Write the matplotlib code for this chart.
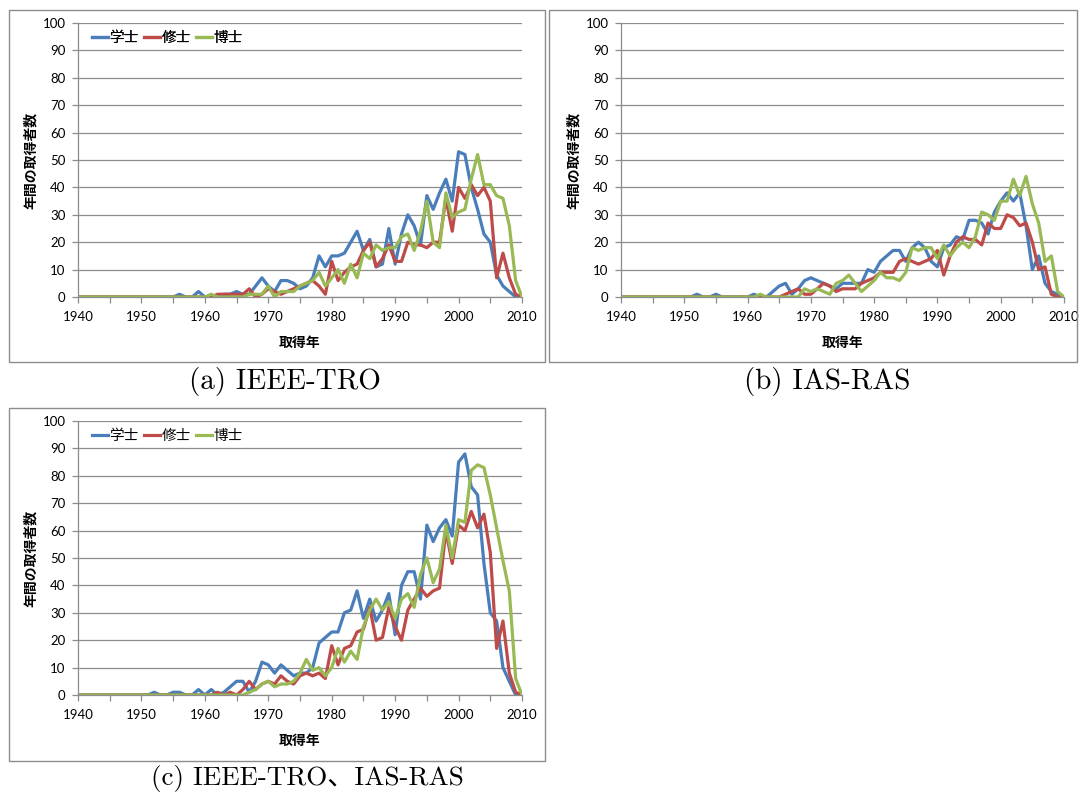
import matplotlib
matplotlib.use('Agg')
import matplotlib.pyplot as plt
from matplotlib.patches import Rectangle
from matplotlib.ticker import MultipleLocator

plt.rcParams['font.family'] = ['Lato', 'Noto Sans CJK JP', 'DejaVu Sans']

W, H = 1079, 794

years = list(range(1940, 2011))
series_names = ['学士', '修士', '博士']
colors = ['#4A7EBB', '#BE4B48', '#98B954']

# (a) IEEE-TRO
tro_bachelor = [0] * 16 + [1, 0, 0, 2, 0, 0, 0, 1, 1, 2,
                           1, 1, 4, 7, 4, 2, 6, 6, 5, 3,
                           4, 7, 15, 11, 15, 15, 16, 20, 24, 17,
                           21, 11, 12, 25, 12, 23, 30, 26, 19, 37,
                           32, 38, 43, 35, 53, 52, 40, 32, 23, 20,
                           8, 4, 2, 0, 0]
tro_master = [0] * 22 + [1, 1, 1, 1, 1, 3, 0, 1, 3, 2,
                         1, 2, 3, 4, 5, 6, 4, 1, 13, 6,
                         9, 11, 12, 17, 20, 11, 14, 19, 13, 13,
                         20, 19, 19, 18, 20, 20, 36, 24, 40, 36,
                         41, 37, 40, 35, 7, 16, 7, 1, 0]
tro_doctor = [0] * 21 + [1, 0, 0, 0, 0, 0, 1, 1, 1, 4,
                         0, 2, 2, 2, 4, 5, 6, 9, 4, 7,
                         10, 5, 12, 7, 16, 14, 19, 17, 18, 18,
                         22, 23, 17, 24, 35, 20, 18, 38, 29, 31,
                         32, 43, 52, 41, 41, 37, 36, 26, 6, 0]

# (b) IAS-RAS
ras_bachelor = [0] * 12 + [1, 0, 0, 1, 0, 0, 0, 0, 0, 1,
                           0, 0, 2, 4, 5, 1, 3, 6, 7, 6,
                           5, 4, 3, 5, 5, 5, 5, 10, 9, 13,
                           15, 17, 17, 13, 18, 20, 18, 13, 11, 18,
                           19, 22, 21, 28, 28, 27, 23, 31, 35, 38,
                           35, 38, 26, 10, 15, 5, 2, 1, 0]
ras_master = [0] * 26 + [1, 2, 3, 1, 1, 3, 5, 4, 2, 3,
                         3, 3, 5, 6, 7, 9, 9, 9, 13, 14,
                         13, 12, 13, 14, 17, 8, 15, 20, 22, 21,
                         21, 19, 27, 25, 25, 30, 29, 26, 27, 20,
                         10, 11, 1, 0, 0]
ras_doctor = [0] * 22 + [1, 0, 0, 0, 0, 0, 0, 3, 2, 3,
                         2, 1, 5, 6, 8, 5, 2, 4, 6, 9,
                         7, 7, 6, 9, 18, 17, 18, 18, 14, 19,
                         15, 18, 20, 18, 22, 31, 30, 28, 35, 35,
                         43, 37, 44, 34, 27, 13, 15, 2, 0]

# (c) IEEE-TRO + IAS-RAS
all_bachelor = [0] * 12 + [1, 0, 0, 1, 1, 0, 0, 2, 0, 2,
                           0, 1, 3, 5, 5, 1, 5, 12, 11, 8,
                           11, 9, 7, 8, 8, 10, 19, 21, 23, 23,
                           30, 31, 38, 28, 35, 27, 31, 37, 22, 40,
                           45, 45, 35, 62, 56, 61, 64, 58, 85, 88,
                           76, 73, 48, 30, 27, 10, 5, 0, 0]
all_master = [0] * 22 + [1, 0, 1, 0, 2, 5, 2, 4, 5, 4,
                         7, 5, 4, 7, 8, 7, 8, 6, 18, 11,
                         17, 18, 23, 24, 32, 20, 21, 32, 25, 20,
                         31, 35, 39, 36, 38, 39, 60, 48, 62, 60,
                         67, 61, 66, 52, 17, 27, 8, 1, 0]
all_doctor = [0] * 27 + [1, 2, 4, 5, 3, 4, 4, 5, 8, 13,
                         9, 10, 7, 10, 17, 12, 16, 13, 25, 31,
                         35, 31, 34, 28, 35, 37, 32, 44, 50, 41,
                         46, 62, 50, 64, 63, 82, 84, 83, 73, 61,
                         49, 38, 6, 0]

fig = plt.figure(figsize=(W / 100, H / 100), dpi=100)


def px_rect(x0, y0, x1, y1):
    return [x0 / W, 1 - y1 / H, (x1 - x0) / W, (y1 - y0) / H]


def draw_panel(data, plot_box, frame_box, caption, cap_xy, cap_size):
    # outer frame of the excel chart
    fx0, fy0, fx1, fy1 = frame_box
    fig.patches.append(Rectangle((fx0 / W, 1 - fy1 / H), (fx1 - fx0) / W, (fy1 - fy0) / H,
                                 transform=fig.transFigure, fill=False,
                                 edgecolor='#8C8C8C', linewidth=1.0))
    x0, y0, x1, y1 = plot_box
    ax = fig.add_axes(px_rect(x0, y0, x1, y1))
    for vals, name, col in zip(data, series_names, colors):
        ax.plot(years, vals, color=col, linewidth=2.3, label=name,
                solid_joinstyle='round')
    ax.set_xlim(1940, 2010)
    ax.set_ylim(0, 100)
    ax.xaxis.set_major_locator(MultipleLocator(10))
    ax.xaxis.set_minor_locator(MultipleLocator(5))
    ax.yaxis.set_major_locator(MultipleLocator(10))
    ax.grid(axis='y', color='#8C8C8C', linewidth=0.9)
    ax.set_axisbelow(True)
    for s in ['top', 'right']:
        ax.spines[s].set_visible(False)
    for s in ['left', 'bottom']:
        ax.spines[s].set_color('#8C8C8C')
        ax.spines[s].set_linewidth(0.9)
    ax.tick_params(which='both', length=4, width=0.9, color='#8C8C8C',
                   labelsize=9.5, direction='out')
    ax.tick_params(axis='x', pad=6)
    ax.tick_params(axis='y', pad=5)
    ax.legend(loc='center left', bbox_to_anchor=((92 - x0) / (x1 - x0), 1 - 15 / (y1 - y0)),
              ncol=3, frameon=False, fontsize=10.5, handlelength=1.1,
              handletextpad=0.1, columnspacing=0.35, borderpad=0, borderaxespad=0)
    cx = (x0 + x1) / 2
    fig.text(cx / W, 1 - (y1 + 46) / H, '取得年', ha='center', va='center',
             fontsize=10, fontweight='bold')
    fig.text((x0 - 48) / W, 1 - ((y0 + y1) / 2) / H, '年間の取得者数', ha='center',
             va='center', rotation=90, fontsize=10, fontweight='bold')
    fig.text(cap_xy[0] / W, 1 - cap_xy[1] / H, caption, ha='center', va='center',
             fontsize=cap_size, family=['cmr10', 'Noto Sans CJK JP'])
    return ax


draw_panel([tro_bachelor, tro_master, tro_doctor], (78, 23, 522, 297),
           (9, 10, 545, 362), '(a) IEEE-TRO', (285, 381), 21)
draw_panel([ras_bachelor, ras_master, ras_doctor], (621, 23, 1064, 297),
           (549, 10, 1077, 362), '(b) IAS-RAS', (827, 381), 21)
draw_panel([all_bachelor, all_master, all_doctor], (78, 421, 522, 695),
           (9, 408, 545, 761), '(c) IEEE-TRO、IAS-RAS', (307, 779), 19.5)

fig.savefig('out.png', dpi=100)
